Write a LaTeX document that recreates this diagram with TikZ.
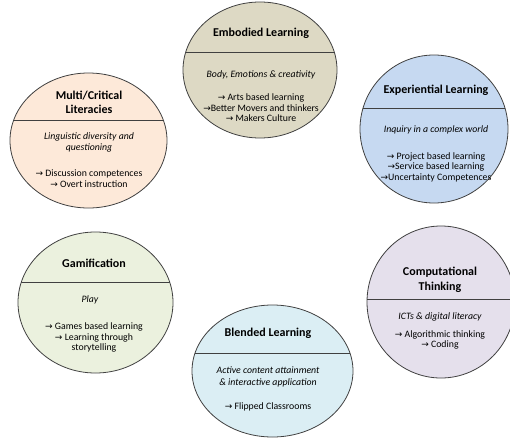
\documentclass[tikz,border=0pt]{standalone}
\usepackage{fontspec}
\setmainfont{Carlito}
\newfontfamily\arrfont{DejaVu Sans}
\usetikzlibrary{shapes.geometric}
\definecolor{cEmb}{HTML}{DDD9C4}
\definecolor{cMul}{HTML}{FDE9D9}
\definecolor{cExp}{HTML}{C6D9F1}
\definecolor{cGam}{HTML}{EBF1DE}
\definecolor{cBle}{HTML}{DBEEF4}
\definecolor{cCom}{HTML}{E5E0EC}
\definecolor{edge}{HTML}{404040}
\newcommand{\ar}{{\arrfont\fontsize{9}{10}\selectfont →}}
\tikzset{
  bubble/.style={ellipse, draw=edge, line width=0.8pt, inner sep=0pt},
  divider/.style={draw=edge, line width=0.8pt},
  titletext/.style={align=center, font=\fontsize{12}{14.5}\selectfont\bfseries, inner sep=0pt},
  subtext/.style={align=center, font=\fontsize{9.8}{11.5}\selectfont\itshape, inner sep=0pt},
  listtext/.style={align=center, font=\fontsize{9.8}{10.5}\selectfont, inner sep=0pt}
}
\begin{document}
\begin{tikzpicture}[x=1pt,y=-1pt]
\useasboundingbox (0,0) rectangle (510,444);
% Embodied
\node[bubble, fill=cEmb, minimum width=154pt, minimum height=136pt] (emb) at (260,70) {};
\begin{scope}\clip (260,70) ellipse [x radius=77, y radius=68];
\draw[divider] (180,52) -- (340,52);\end{scope}
\node[titletext] (embT) at (261,33) {Embodied Learning};
\node[subtext] (embS) at (261,75) {Body, Emotions \& creativity};
\node[listtext] (embL) at (261,108) {\ar\ Arts based learning\\\ar Better Movers and thinkers\\\ar\ Makers Culture};
% Multi
\node[bubble, fill=cMul, minimum width=157pt, minimum height=135pt] (mul) at (88.5,140.5) {};
\begin{scope}\clip (88.5,140.5) ellipse [x radius=78.5, y radius=67.5];
\draw[divider] (5,120) -- (170,120);\end{scope}
\node[titletext] (mulT) at (89,102.5) {Multi/Critical\\Literacies};
\node[subtext] (mulS) at (89,142.5) {Linguistic diversity and\\questioning};
\node[listtext] (mulL) at (89,178.5) {\ar\ Discussion competences\\\ar\ Overt instruction};
% Experiential
\node[bubble, fill=cExp, minimum width=148pt, minimum height=148pt] (exp) at (434,129) {};
\begin{scope}\clip (434,129) ellipse [x radius=74, y radius=74];
\draw[divider] (355,108) -- (512,108);\end{scope}
\node[titletext] (expT) at (436,90) {Experiential Learning};
\node[subtext] (expS) at (436,130) {Inquiry in a complex world};
\node[listtext] (expL) at (436,167) {\ar\ Project based learning\\\ar Service based learning\\\ar Uncertainty Competences};
% Gamification
\node[bubble, fill=cGam, minimum width=155pt, minimum height=141pt] (gam) at (95.5,302.5) {};
\begin{scope}\clip (95.5,302.5) ellipse [x radius=77.5, y radius=70.5];
\draw[divider] (15,282) -- (176,282);\end{scope}
\node[titletext] (gamT) at (94,263) {Gamification};
\node[subtext] (gamS) at (90,300) {Play};
\node[listtext] (gamL) at (94,337.5) {\ar\ Games based learning\\\ar\ Learning through\\storytelling};
% Blended
\node[bubble, fill=cBle, minimum width=161pt, minimum height=132pt] (ble) at (272.5,371) {};
\begin{scope}\clip (272.5,371) ellipse [x radius=80.5, y radius=66];
\draw[divider] (190,353) -- (355,353);\end{scope}
\node[titletext] (bleT) at (268,333) {Blended Learning};
\node[subtext] (bleS) at (268,377) {Active content attainment\\\& interactive application};
\node[listtext] (bleL) at (268,407) {\ar\ Flipped Classrooms};
% Computational
\node[bubble, fill=cCom, minimum width=148pt, minimum height=152pt] (com) at (441,302) {};
\begin{scope}\clip (441,302) ellipse [x radius=74, y radius=76];
\draw[divider] (360,299) -- (520,299);\end{scope}
\node[titletext] (comT) at (440,280) {Computational\\Thinking};
\node[subtext] (comS) at (440,317) {ICTs \& digital literacy};
\node[listtext] (comL) at (440,340) {\ar\ Algorithmic thinking\\\ar\ Coding};
\end{tikzpicture}
\end{document}
